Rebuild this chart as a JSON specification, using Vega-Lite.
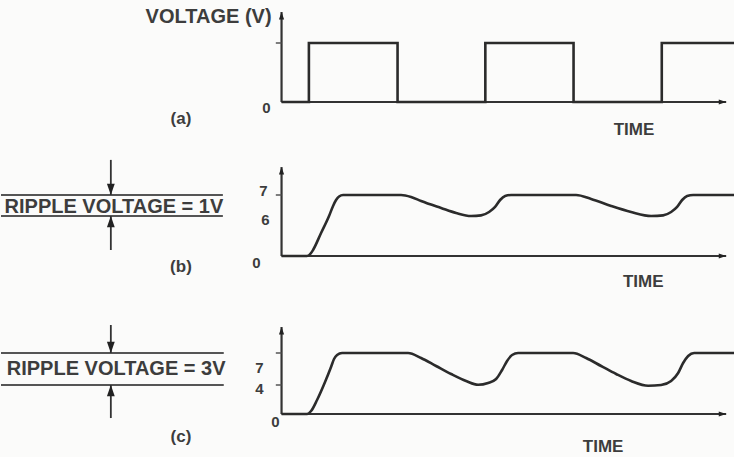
{
  "$schema": "https://vega.github.io/schema/vega-lite/v6.json",
  "background": "#fbfbfa",
  "padding": 0,
  "spacing": 0,
  "config": {"view": {"stroke": null}, "text": {"font": "Liberation Sans", "fontWeight": "bold", "fill": "#3d3d3d", "fontSize": 15}},
  "vconcat": [
    {
      "width": 734, "height": 150,
      "encoding": {
        "x": {"field": "t", "type": "quantitative", "scale": {"domain": [-6.36, 10.28], "nice": false, "zero": false}, "axis": null},
        "y": {"field": "v", "type": "quantitative", "scale": {"domain": [-8.14, 17.29], "nice": false, "zero": false}, "axis": null}
      },
      "layer": [
        {"data": {"values": [{"t": 0, "v": 0, "v2": 15.25}]}, "mark": {"type": "rule", "stroke": "#333", "strokeWidth": 2.2}, "encoding": {"y2": {"field": "v2"}}},
        {"data": {"values": [{"t": 0, "t2": 10.08, "v": 0}]}, "mark": {"type": "rule", "stroke": "#333", "strokeWidth": 2.2}, "encoding": {"x2": {"field": "t2"}}},
        {"data": {"values": [{"t": -0.13, "t2": 0, "v": 10}]}, "mark": {"type": "rule", "stroke": "#555", "strokeWidth": 1.5}, "encoding": {"x2": {"field": "t2"}}},
        {"data": {"values": [{"t": 0, "v": 15.25, "dir": "up"}, {"t": 10.08, "v": 0, "dir": "right"}]}, "mark": {"type": "point", "filled": true, "size": 220, "fill": "#222", "opacity": 1}, "encoding": {"shape": {"field": "dir", "type": "nominal", "scale": {"domain": ["down", "up", "right"], "range": ["M-0.35,-1L0.35,-1L0,0Z", "M-0.35,1L0.35,1L0,0Z", "M-1,-0.35L-1,0.35L0,0Z"]}, "legend": null}}},
        {"data": {"values": [{"t": 0, "v": 0}, {"t": 0.62, "v": 10}, {"t": 2.63, "v": 0}, {"t": 4.62, "v": 10}, {"t": 6.62, "v": 0}, {"t": 8.62, "v": 10}, {"t": 10.28, "v": 10}]}, "mark": {"type": "line", "interpolate": "step-after", "stroke": "#2b2b2b", "strokeWidth": 2.6}, "encoding": {}},
        {"data": {"values": [{"t": 0, "v": 0, "label": "0"}]}, "mark": {"type": "text", "align": "right", "dx": -11, "dy": 6}, "encoding": {"text": {"field": "label"}}},
        {"data": {"values": [{"t": 0, "v": 14.4, "label": "VOLTAGE (V)"}]}, "mark": {"type": "text", "align": "right", "dx": -10, "fontSize": 20}, "encoding": {"text": {"field": "label"}}},
        {"data": {"values": [{"t": -2.28, "v": -2.88, "label": "(a)"}, {"t": 7.99, "v": -4.75, "label": "TIME"}]}, "mark": {"type": "text", "align": "center", "fontSize": 17}, "encoding": {"text": {"field": "label"}}}
      ]
    },
    {
      "width": 734, "height": 150,
      "encoding": {
        "x": {"field": "t", "type": "quantitative", "scale": {"domain": [-6.36, 10.28], "nice": false, "zero": false}, "axis": null},
        "y": {"field": "v", "type": "quantitative", "scale": {"domain": [-5, 0, 6, 7, 12], "range": [150, 106, 66, 45, 0], "nice": false, "zero": false}, "axis": null}
      },
      "layer": [
        {"data": {"values": [{"t": 0, "v": 0, "v2": 10.1}]}, "mark": {"type": "rule", "stroke": "#333", "strokeWidth": 2.2}, "encoding": {"y2": {"field": "v2"}}},
        {"data": {"values": [{"t": 0, "t2": 10.08, "v": 0}]}, "mark": {"type": "rule", "stroke": "#333", "strokeWidth": 2.2}, "encoding": {"x2": {"field": "t2"}}},
        {"data": {"values": [{"t": -0.13, "t2": 0, "v": 7}]}, "mark": {"type": "rule", "stroke": "#555", "strokeWidth": 1.5}, "encoding": {"x2": {"field": "t2"}}},
        {"data": {"values": [{"t": 0, "v": 10.1, "dir": "up"}, {"t": 10.08, "v": 0, "dir": "right"}]}, "mark": {"type": "point", "filled": true, "size": 220, "fill": "#222", "opacity": 1}, "encoding": {"shape": {"field": "dir", "type": "nominal", "scale": {"domain": ["down", "up", "right"], "range": ["M-0.35,-1L0.35,-1L0,0Z", "M-0.35,1L0.35,1L0,0Z", "M-1,-0.35L-1,0.35L0,0Z"]}, "legend": null}}},
        {"data": {"values": [
          {"t": 0, "v": 0}, {"t": 0.578, "v": 0}, {"t": 0.669, "v": 0.45}, {"t": 0.714, "v": 0.9}, {"t": 0.896, "v": 3.45}, {"t": 1.077, "v": 6.0}, {"t": 1.168, "v": 6.48}, {"t": 1.236, "v": 6.76}, {"t": 1.304, "v": 6.93}, {"t": 1.395, "v": 7},
          {"t": 2.71, "v": 7}, {"t": 2.937, "v": 6.905}, {"t": 3.163, "v": 6.714}, {"t": 3.617, "v": 6.381}, {"t": 3.957, "v": 6.143}, {"t": 4.297, "v": 6.0}, {"t": 4.524, "v": 6.03}, {"t": 4.705, "v": 6.19}, {"t": 4.841, "v": 6.43}, {"t": 4.955, "v": 6.762}, {"t": 5.068, "v": 6.952}, {"t": 5.204, "v": 7},
          {"t": 6.678, "v": 7}, {"t": 7.018, "v": 6.81}, {"t": 7.472, "v": 6.476}, {"t": 7.925, "v": 6.19}, {"t": 8.379, "v": 6.0}, {"t": 8.651, "v": 6.03}, {"t": 8.832, "v": 6.19}, {"t": 8.968, "v": 6.43}, {"t": 9.082, "v": 6.762}, {"t": 9.195, "v": 6.952}, {"t": 9.331, "v": 7}, {"t": 10.283, "v": 7}
        ]}, "mark": {"type": "line", "interpolate": "monotone", "stroke": "#2b2b2b", "strokeWidth": 2.6}, "encoding": {}},
        {"data": {"values": [{"t": 0, "v": 7, "label": "7"}]}, "mark": {"type": "text", "align": "right", "dx": -14, "dy": -4}, "encoding": {"text": {"field": "label"}}},
        {"data": {"values": [{"t": 0, "v": 6, "label": "6"}]}, "mark": {"type": "text", "align": "right", "dx": -12, "dy": 4}, "encoding": {"text": {"field": "label"}}},
        {"data": {"values": [{"t": 0, "v": 0, "label": "0"}]}, "mark": {"type": "text", "align": "right", "dx": -21, "dy": 7}, "encoding": {"text": {"field": "label"}}},
        {"data": {"values": [{"t": -6.36, "t2": -1.33, "v": 7}, {"t": -6.36, "t2": -1.33, "v": 6}]}, "mark": {"type": "rule", "stroke": "#555", "strokeWidth": 2}, "encoding": {"x2": {"field": "t2"}}},
        {"data": {"values": [{"t": -3.87, "v": 10.9, "v2": 7}, {"t": -3.87, "v": 0.9, "v2": 6}]}, "mark": {"type": "rule", "stroke": "#333", "strokeWidth": 1.8}, "encoding": {"y2": {"field": "v2"}}},
        {"data": {"values": [{"t": -3.87, "v": 7, "dir": "down"}, {"t": -3.87, "v": 6, "dir": "up"}]}, "mark": {"type": "point", "filled": true, "size": 500, "fill": "#222", "opacity": 1}, "encoding": {"shape": {"field": "dir", "type": "nominal", "scale": {"domain": ["down", "up", "right"], "range": ["M-0.35,-1L0.35,-1L0,0Z", "M-0.35,1L0.35,1L0,0Z", "M-1,-0.35L-1,0.35L0,0Z"]}, "legend": null}}},
        {"data": {"values": [{"t": -3.8, "v": 6.5, "label": "RIPPLE VOLTAGE = 1V"}]}, "mark": {"type": "text", "align": "center", "dy": 1, "fontSize": 20}, "encoding": {"text": {"field": "label"}}},
        {"data": {"values": [{"t": -2.28, "v": -1.25, "label": "(b)"}, {"t": 8.2, "v": -2.95, "label": "TIME"}]}, "mark": {"type": "text", "align": "center", "fontSize": 17}, "encoding": {"text": {"field": "label"}}}
      ]
    },
    {
      "width": 734, "height": 157,
      "encoding": {
        "x": {"field": "t", "type": "quantitative", "scale": {"domain": [-6.36, 10.28], "nice": false, "zero": false}, "axis": null},
        "y": {"field": "v", "type": "quantitative", "scale": {"domain": [-5, 0, 4, 7, 12], "range": [157, 114, 85, 53, 0], "nice": false, "zero": false}, "axis": null}
      },
      "layer": [
        {"data": {"values": [{"t": 0, "v": 0, "v2": 9.45}]}, "mark": {"type": "rule", "stroke": "#333", "strokeWidth": 2.2}, "encoding": {"y2": {"field": "v2"}}},
        {"data": {"values": [{"t": 0, "t2": 10.08, "v": 0}]}, "mark": {"type": "rule", "stroke": "#333", "strokeWidth": 2.2}, "encoding": {"x2": {"field": "t2"}}},
        {"data": {"values": [{"t": -0.13, "t2": 0, "v": 7}, {"t": -0.13, "t2": 0, "v": 4}]}, "mark": {"type": "rule", "stroke": "#555", "strokeWidth": 1.5}, "encoding": {"x2": {"field": "t2"}}},
        {"data": {"values": [{"t": 0, "v": 9.45, "dir": "up"}, {"t": 10.08, "v": 0, "dir": "right"}]}, "mark": {"type": "point", "filled": true, "size": 220, "fill": "#222", "opacity": 1}, "encoding": {"shape": {"field": "dir", "type": "nominal", "scale": {"domain": ["down", "up", "right"], "range": ["M-0.35,-1L0.35,-1L0,0Z", "M-0.35,1L0.35,1L0,0Z", "M-1,-0.35L-1,0.35L0,0Z"]}, "legend": null}}},
        {"data": {"values": [
          {"t": 0, "v": 0}, {"t": 0.578, "v": 0}, {"t": 0.669, "v": 0.41}, {"t": 0.805, "v": 1.93}, {"t": 0.986, "v": 4.28}, {"t": 1.122, "v": 5.69}, {"t": 1.19, "v": 6.44}, {"t": 1.259, "v": 6.81}, {"t": 1.372, "v": 7},
          {"t": 2.868, "v": 7}, {"t": 3.163, "v": 6.53}, {"t": 3.503, "v": 5.78}, {"t": 3.844, "v": 5.03}, {"t": 4.184, "v": 4.375}, {"t": 4.456, "v": 4.02}, {"t": 4.683, "v": 4.19}, {"t": 4.864, "v": 4.56}, {"t": 5.0, "v": 5.41}, {"t": 5.113, "v": 6.25}, {"t": 5.227, "v": 6.81}, {"t": 5.363, "v": 7},
          {"t": 6.61, "v": 7}, {"t": 6.905, "v": 6.53}, {"t": 7.245, "v": 5.78}, {"t": 7.585, "v": 5.03}, {"t": 7.925, "v": 4.375}, {"t": 8.311, "v": 3.9}, {"t": 8.605, "v": 4.0}, {"t": 8.832, "v": 4.375}, {"t": 8.991, "v": 5.125}, {"t": 9.104, "v": 6.06}, {"t": 9.218, "v": 6.72}, {"t": 9.354, "v": 7}, {"t": 10.283, "v": 7}
        ]}, "mark": {"type": "line", "interpolate": "monotone", "stroke": "#2b2b2b", "strokeWidth": 2.6}, "encoding": {}},
        {"data": {"values": [{"t": 0, "v": 7, "label": "7"}]}, "mark": {"type": "text", "align": "right", "dx": -18, "dy": 15}, "encoding": {"text": {"field": "label"}}},
        {"data": {"values": [{"t": 0, "v": 4, "label": "4"}]}, "mark": {"type": "text", "align": "right", "dx": -18, "dy": 4}, "encoding": {"text": {"field": "label"}}},
        {"data": {"values": [{"t": 0, "v": 0, "label": "0"}]}, "mark": {"type": "text", "align": "right", "dx": -2, "dy": 8}, "encoding": {"text": {"field": "label"}}},
        {"data": {"values": [{"t": -6.36, "t2": -1.31, "v": 7}, {"t": -6.36, "t2": -1.31, "v": 4}]}, "mark": {"type": "rule", "stroke": "#555", "strokeWidth": 2}, "encoding": {"x2": {"field": "t2"}}},
        {"data": {"values": [{"t": -3.87, "v": 9.64, "v2": 7}, {"t": -3.87, "v": -0.47, "v2": 4}]}, "mark": {"type": "rule", "stroke": "#333", "strokeWidth": 1.8}, "encoding": {"y2": {"field": "v2"}}},
        {"data": {"values": [{"t": -3.87, "v": 7, "dir": "down"}, {"t": -3.87, "v": 4, "dir": "up"}]}, "mark": {"type": "point", "filled": true, "size": 500, "fill": "#222", "opacity": 1}, "encoding": {"shape": {"field": "dir", "type": "nominal", "scale": {"domain": ["down", "up", "right"], "range": ["M-0.35,-1L0.35,-1L0,0Z", "M-0.35,1L0.35,1L0,0Z", "M-1,-0.35L-1,0.35L0,0Z"]}, "legend": null}}},
        {"data": {"values": [{"t": -3.75, "v": 5.5, "label": "RIPPLE VOLTAGE = 3V"}]}, "mark": {"type": "text", "align": "center", "fontSize": 20}, "encoding": {"text": {"field": "label"}}},
        {"data": {"values": [{"t": -2.28, "v": -2.67, "label": "(c)"}, {"t": 7.29, "v": -3.84, "label": "TIME"}]}, "mark": {"type": "text", "align": "center", "fontSize": 17}, "encoding": {"text": {"field": "label"}}}
      ]
    }
  ]
}
